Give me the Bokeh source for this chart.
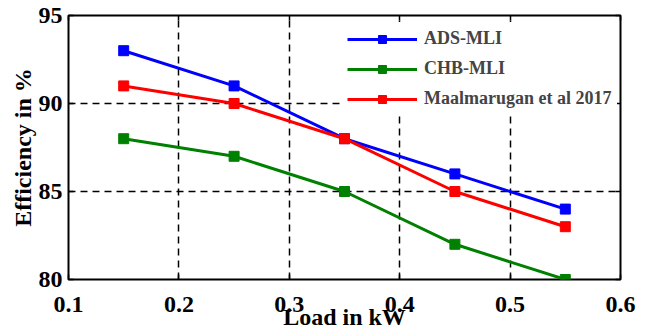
from bokeh.plotting import figure
from bokeh.models import LinearAxis, FixedTicker, Range1d
from bokeh.embed import file_html
from bokeh.resources import INLINE

load_kw = [0.15, 0.25, 0.35, 0.45, 0.55]
ads_mli = [93, 91, 88, 86, 84]
chb_mli = [88, 87, 85, 82, 80]
maal_2017 = [91, 90, 88, 85, 83]

x_ticks = [0.1, 0.2, 0.3, 0.4, 0.5, 0.6]
y_ticks = [80, 85, 90, 95]

FONT = "Liberation Serif"

p = figure(frame_width=552, frame_height=264, output_backend="svg", toolbar_location=None,
           x_range=Range1d(0.1, 0.6), y_range=Range1d(80, 95),
           min_border_left=68, min_border_right=32, min_border_top=15, min_border_bottom=50)

series = [(ads_mli, "#0000FF", "ADS-MLI"),
          (chb_mli, "#008000", "CHB-MLI"),
          (maal_2017, "#FF0000", "Maalmarugan et al 2017")]
for ys, col, lab in series:
    p.line(load_kw, ys, line_color=col, line_width=3, legend_label=lab)
    p.scatter(load_kw, ys, marker="square", size=10, fill_color=col, line_color=col, legend_label=lab)

p.xaxis.ticker = FixedTicker(ticks=x_ticks)
p.yaxis.ticker = FixedTicker(ticks=y_ticks)

for ax in (p.xaxis[0], p.yaxis[0]):
    ax.major_tick_in = 5
    ax.major_tick_out = 0
    ax.minor_tick_in = 0
    ax.minor_tick_out = 0
    ax.major_tick_line_width = 1.5
    ax.axis_line_color = None
    ax.major_label_text_font = FONT
    ax.major_label_text_font_style = "bold"
    ax.major_label_text_font_size = "24px"
    ax.major_label_text_color = "black"
    ax.axis_label_text_font = FONT
    ax.axis_label_text_font_style = "bold"
    ax.axis_label_text_font_size = "24px"
    ax.axis_label_text_color = "black"

p.xaxis.axis_label = "Load in kW"
p.yaxis.axis_label = "Efficiency in %"
p.xaxis.major_label_standoff = 17
p.xaxis.axis_label_standoff = -11
p.yaxis.major_label_standoff = 6
p.yaxis.axis_label_standoff = 0

top_ax = LinearAxis(ticker=FixedTicker(ticks=x_ticks),
                    major_label_overrides={t: "" for t in x_ticks})
right_ax = LinearAxis(ticker=FixedTicker(ticks=y_ticks),
                      major_label_overrides={t: "" for t in y_ticks})
for ax in (top_ax, right_ax):
    ax.major_tick_in = 5
    ax.major_tick_out = 0
    ax.minor_tick_in = 0
    ax.minor_tick_out = 0
    ax.major_tick_line_width = 1.5
    ax.axis_line_color = None
    ax.major_label_standoff = 0
    ax.major_label_text_font_size = "1px"
p.add_layout(top_ax, "above")
p.add_layout(right_ax, "right")

p.xgrid.ticker = FixedTicker(ticks=[0.2, 0.3, 0.4, 0.5])
p.ygrid.ticker = FixedTicker(ticks=[85, 90])
for g in (p.xgrid[0], p.ygrid[0]):
    g.grid_line_color = "black"
    g.grid_line_dash = "7 5"
    g.grid_line_width = 1.5
    g.grid_line_alpha = 1.0

p.outline_line_color = "black"
p.outline_line_width = 2
p.background_fill_color = "white"
p.border_fill_color = "white"

lg = p.legend[0]
lg.location = (273, 164)
lg.background_fill_color = "white"
lg.background_fill_alpha = 1.0
lg.border_line_alpha = 0
lg.label_text_font = FONT
lg.label_text_font_style = "bold"
lg.label_text_font_size = "18px"
lg.glyph_width = 70
lg.glyph_height = 20
lg.label_height = 20
lg.label_standoff = 7
lg.spacing = 9
lg.padding = 6
lg.margin = 0

open("out.html", "w").write(file_html(p, INLINE))
